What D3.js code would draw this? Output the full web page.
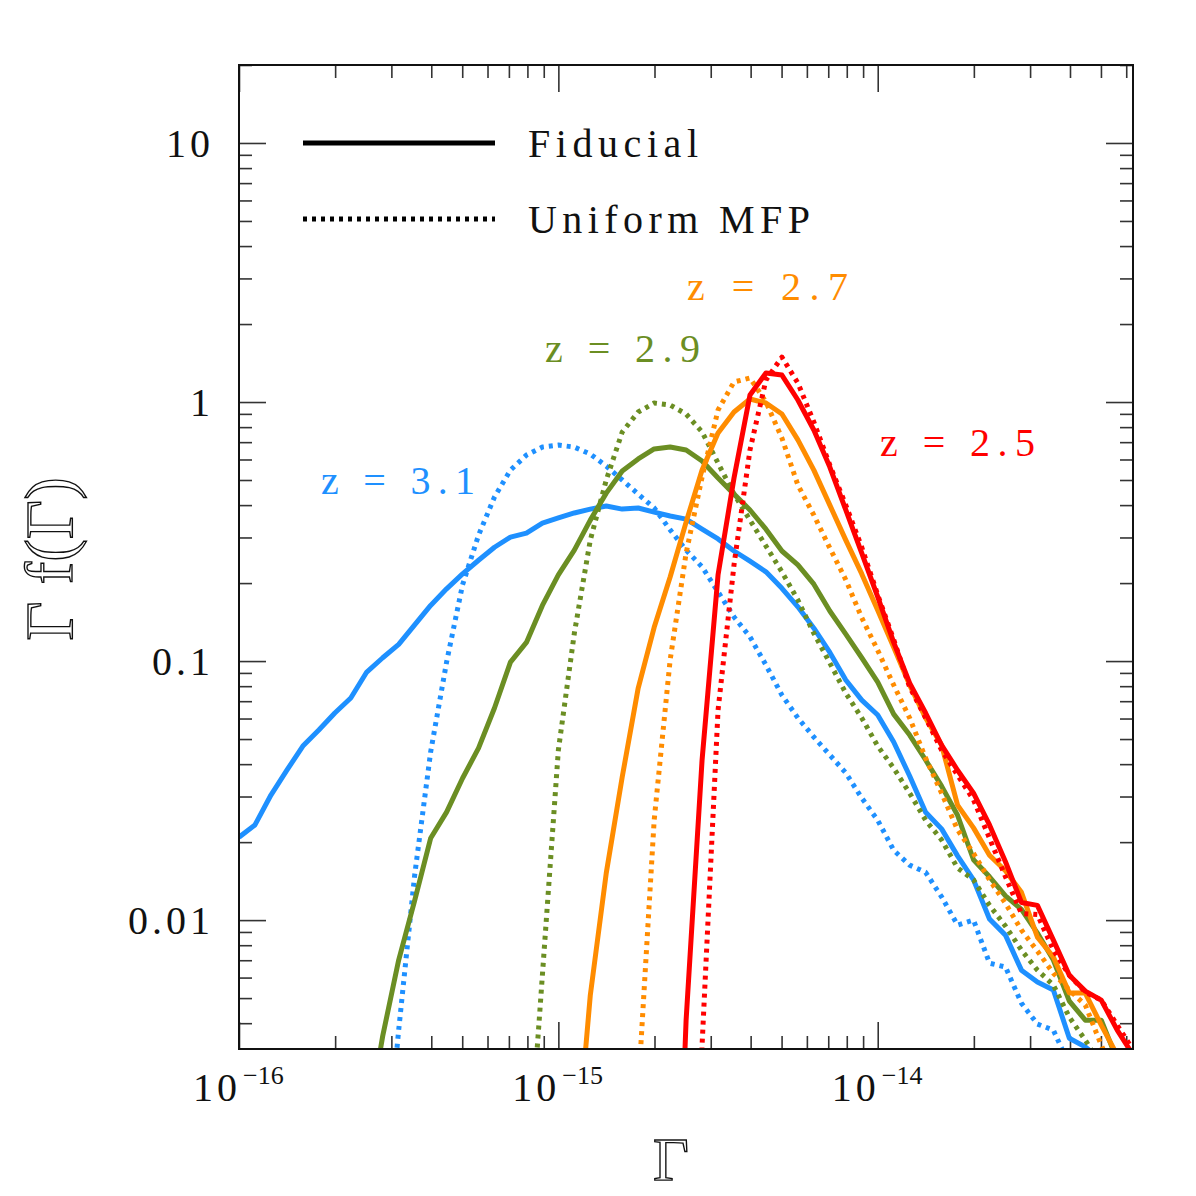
<!DOCTYPE html>
<html>
<head>
<meta charset="utf-8">
<script src="https://cdn.jsdelivr.net/npm/d3@7"></script>
<style>
  body { margin: 0; background: #fff; }
  svg text { font-family: "Liberation Serif", "DejaVu Serif", serif; }
</style>
</head>
<body>
<div id="chart"></div>
<script>
// log10 of Gamma at the bin centres
const logGamma = [
  -16.00, -15.95, -15.90, -15.85, -15.80, -15.75, -15.70, -15.65, -15.60, -15.55,
  -15.50, -15.45, -15.40, -15.35, -15.30, -15.25, -15.20, -15.15, -15.10, -15.05,
  -15.00, -14.95, -14.90, -14.85, -14.80, -14.75, -14.70, -14.65, -14.60, -14.55,
  -14.50, -14.45, -14.40, -14.35, -14.30, -14.25, -14.20, -14.15, -14.10, -14.05,
  -14.00, -13.95, -13.90, -13.85, -13.80, -13.75, -13.70, -13.65, -13.60, -13.55,
  -13.50, -13.45, -13.40, -13.35, -13.30, -13.25, -13.20
];

// Gamma f(Gamma), each series starts at the bin given by its "from" value
const blueSolidFrom = -16.00;
const blueSolid = [
  0.0209, 0.0233, 0.0304, 0.0379, 0.0470, 0.0542, 0.0630, 0.0720, 0.0907, 0.103,
  0.116, 0.138, 0.164, 0.190, 0.217, 0.245, 0.275, 0.301, 0.312, 0.341,
  0.357, 0.373, 0.386, 0.397, 0.386, 0.390, 0.376, 0.363, 0.353, 0.323,
  0.296, 0.266, 0.243, 0.221, 0.191, 0.162, 0.134, 0.108, 0.0845, 0.0707,
  0.0619, 0.0487, 0.0360, 0.0261, 0.0225, 0.0177, 0.0143, 0.0101, 0.00875, 0.00641,
  0.00577, 0.00537, 0.00350, 0.00324, 0.00288
];
const blueDottedFrom = -15.55;
const blueDotted = [
  0.00083,
  0.00376, 0.0149, 0.0445, 0.0991, 0.197, 0.306, 0.430, 0.546, 0.624, 0.670,
  0.682, 0.670, 0.630, 0.566, 0.500, 0.441, 0.390, 0.321, 0.268, 0.231,
  0.185, 0.148, 0.124, 0.0965, 0.0739, 0.0603, 0.0509, 0.0434, 0.0370, 0.0296,
  0.0243, 0.0186, 0.0163, 0.0153, 0.0123, 0.00957, 0.0100, 0.00682, 0.00659, 0.00478,
  0.00397, 0.00376, 0.00275
];
const greenSolidFrom = -15.60;
const greenSolid = [
  0.00155, 0.00357,
  0.00701, 0.0119, 0.0207, 0.0261, 0.0353, 0.0461, 0.0659, 0.0991, 0.118, 0.164,
  0.215, 0.268, 0.350, 0.445, 0.542, 0.603, 0.659, 0.670, 0.653, 0.592,
  0.509, 0.441, 0.383, 0.323, 0.266, 0.235, 0.198, 0.156, 0.127, 0.103,
  0.0830, 0.0624, 0.0518, 0.0415, 0.0329, 0.0254, 0.0171, 0.0147, 0.0124, 0.0110,
  0.00891, 0.00701, 0.00487, 0.00411, 0.00411, 0.00288
];
const greenDottedFrom = -15.10;
const greenDotted = [
  0.00083, 0.00613,
  0.0453, 0.128, 0.293, 0.500, 0.766, 0.915, 0.991, 0.974, 0.899, 0.766,
  0.581, 0.441, 0.350, 0.278, 0.221, 0.172, 0.128, 0.0983, 0.0752, 0.0603,
  0.0470, 0.0386, 0.0309, 0.0243, 0.0204, 0.0159, 0.0143, 0.0114, 0.00948, 0.00766,
  0.00641, 0.00561, 0.00422, 0.00344, 0.00275
];
const orangeSolidFrom = -14.95;
const orangeSolid = [
  0.000991, 0.00513, 0.0152, 0.0357, 0.0787, 0.135, 0.211, 0.344, 0.546,
  0.759, 0.915, 1.027, 0.991, 0.899, 0.714, 0.546, 0.400, 0.293, 0.217,
  0.157, 0.113, 0.0808, 0.0603, 0.0474, 0.0278, 0.0227, 0.0178, 0.0155, 0.0128,
  0.00860, 0.00720, 0.00523, 0.00523, 0.00393, 0.00301
];
const orangeDottedFrom = -14.80;
const orangeDotted = [
  0.000532, 0.00221, 0.0243, 0.101, 0.261, 0.513,
  0.931, 1.195, 1.238, 1.000, 0.726, 0.478, 0.366, 0.273, 0.206, 0.147,
  0.110, 0.0808, 0.0603, 0.0422, 0.0309, 0.0223, 0.0181, 0.0143, 0.0116, 0.00915,
  0.00759, 0.00624, 0.00537, 0.00470, 0.00329, 0.00241
];
const redSolidFrom = -14.65;
const redSolid = [
  0.0001, 0.00411, 0.0415,
  0.215, 0.509, 1.064, 1.294, 1.271, 1.018, 0.780, 0.561, 0.383, 0.261,
  0.177, 0.118, 0.0822, 0.0630, 0.0474, 0.0379, 0.0309, 0.0233, 0.0168, 0.0117,
  0.0114, 0.00837, 0.00613, 0.00532, 0.00491, 0.00376, 0.00301
];
const redDottedFrom = -14.60;
const redDotted = [
  0.0001, 0.00329,
  0.0646, 0.235, 0.653, 1.216, 1.490, 1.184, 0.837, 0.571, 0.400, 0.275,
  0.180, 0.121, 0.0794, 0.0603, 0.0453, 0.0363, 0.0291, 0.0207, 0.0147, 0.0106,
  0.0105, 0.00766, 0.00613, 0.00527, 0.00491, 0.00393, 0.00315
];

const redshifts = ["2.5", "2.7", "2.9", "3.1"];
const colors = ["#ff0000", "#ff8c00", "#6b8e23", "#1e90ff"];
const legendLabels = ["Fiducial", "Uniform MFP"];
const yTickValues = [0.01, 0.1, 1, 10];
const yTickLabels = ["0.01", "0.1", "1", "10"];
const xTickValues = [1e-16, 1e-15, 1e-14];
const xTickExponents = ["\u221216", "\u221215", "\u221214"];

// build the series table from the arrays above
function series(from, values, z, dotted) {
  const start = logGamma.findIndex(g => Math.abs(g - from) < 1e-9);
  return {
    z: z,
    dotted: dotted,
    color: colors[redshifts.indexOf(z)],
    points: values.map((v, i) => [Math.pow(10, logGamma[start + i]), v])
  };
}
const allSeries = [
  series(blueDottedFrom, blueDotted, "3.1", true),
  series(blueSolidFrom, blueSolid, "3.1", false),
  series(greenDottedFrom, greenDotted, "2.9", true),
  series(greenSolidFrom, greenSolid, "2.9", false),
  series(orangeDottedFrom, orangeDotted, "2.7", true),
  series(orangeSolidFrom, orangeSolid, "2.7", false),
  series(redDottedFrom, redDotted, "2.5", true),
  series(redSolidFrom, redSolid, "2.5", false)
];

const W = 1196, H = 1196;
const margin = { top: 65, right: 63, bottom: 147, left: 239 };
const width = W - margin.left - margin.right,
      height = H - margin.top - margin.bottom;
const fontFamily = '"Liberation Serif", "DejaVu Serif", serif';

const svg = d3.select("#chart").append("svg")
    .attr("width", W)
    .attr("height", H)
    .attr("font-family", fontFamily);

const g = svg.append("g")
    .attr("transform", `translate(${margin.left},${margin.top})`);

const x = d3.scaleLog().domain([1e-16, 6.3e-14]).range([0, width]);
const y = d3.scaleLog().domain([0.00318, 20]).range([height, 0]);

// minor / major ticks on all four sides, pointing inward
function minorTicks(domain) {
  const lo = Math.floor(Math.log10(domain[0])), hi = Math.ceil(Math.log10(domain[1]));
  const out = [];
  for (let e = lo; e <= hi; e++) {
    for (let m = 2; m <= 9; m++) {
      const v = m * Math.pow(10, e);
      if (v >= domain[0] && v <= domain[1]) out.push(v);
    }
  }
  return out;
}
const xMinor = minorTicks(x.domain());
const yMinor = minorTicks(y.domain());

const axes = [
  [d3.axisLeft(y), 0, 0, yTickValues, yMinor],
  [d3.axisRight(y), width, 0, yTickValues, yMinor],
  [d3.axisBottom(x), 0, height, xTickValues, xMinor],
  [d3.axisTop(x), 0, 0, xTickValues, xMinor]
];
axes.forEach(([axis, tx, ty, major, minor]) => {
  [[major, 27], [minor, 13]].forEach(([vals, size]) => {
    const ax = g.append("g")
        .attr("transform", `translate(${tx},${ty})`)
        .call(axis.tickValues(vals).tickSize(-size).tickFormat(""));
    ax.select(".domain").remove();
    ax.selectAll(".tick line").attr("stroke", "#333").attr("stroke-width", 1.6);
  });
});

// y tick labels
g.append("g")
    .selectAll("text")
    .data(yTickValues)
    .join("text")
    .attr("x", -25)
    .attr("y", d => y(d) + 14)
    .attr("text-anchor", "end")
    .attr("font-size", 40)
    .attr("letter-spacing", 4)
    .attr("fill", "#111")
    .text((d, i) => yTickLabels[i]);

// x tick labels with superscript exponents
const xLab = g.append("g")
    .selectAll("text")
    .data(xTickValues)
    .join("text")
    .attr("x", d => x(d) - 46)
    .attr("y", height + 52)
    .attr("font-size", 40)
    .attr("fill", "#111");
xLab.append("tspan").attr("letter-spacing", 4).text("10");
xLab.append("tspan")
    .attr("dx", 2)
    .attr("dy", -17)
    .attr("font-size", 26)
    .text((d, i) => xTickExponents[i]);

// curves
svg.append("defs").append("clipPath").attr("id", "plot-clip")
  .append("rect").attr("width", width).attr("height", height);

const line = d3.line()
    .x(d => x(d[0]))
    .y(d => y(d[1]));

g.append("g")
    .attr("clip-path", "url(#plot-clip)")
    .selectAll("path")
    .data(allSeries)
    .join("path")
    .attr("fill", "none")
    .attr("stroke", d => d.color)
    .attr("stroke-width", 5)
    .attr("stroke-dasharray", d => d.dotted ? "4,5" : null)
    .attr("stroke-linejoin", "round")
    .attr("d", d => line(d.points));

// frame
g.append("rect")
    .attr("width", width)
    .attr("height", height)
    .attr("fill", "none")
    .attr("stroke", "#111")
    .attr("stroke-width", 2);

// legend
const legend = g.append("g");
legendLabels.forEach((lab, i) => {
  const ly = 78 + i * 76;
  legend.append("line")
      .attr("x1", 64).attr("x2", 256)
      .attr("y1", ly).attr("y2", ly)
      .attr("stroke", "#000")
      .attr("stroke-width", 5)
      .attr("stroke-dasharray", i === 1 ? "4,5" : null);
  legend.append("text")
      .attr("x", 289)
      .attr("y", ly + 14)
      .attr("font-size", 40)
      .attr("textLength", i === 0 ? 170 : 282)
      .attr("lengthAdjust", "spacing")
      .attr("fill", "#111")
      .text(lab);
});

// redshift labels
const zLabels = [
  { z: "2.5", x: 641, y: 391, w: 155 },
  { z: "2.7", x: 448, y: 235, w: 161 },
  { z: "2.9", x: 306, y: 297, w: 155 },
  { z: "3.1", x: 82, y: 429, w: 154 }
];
g.append("g")
    .selectAll("text")
    .data(zLabels)
    .join("text")
    .attr("x", d => d.x)
    .attr("y", d => d.y)
    .attr("font-size", 40)
    .attr("textLength", d => d.w)
    .attr("lengthAdjust", "spacing")
    .attr("fill", d => colors[redshifts.indexOf(d.z)])
    .text(d => `z = ${d.z}`);

// axis titles
svg.append("text")
    .attr("x", 671)
    .attr("y", 1180)
    .attr("text-anchor", "middle")
    .attr("font-size", 62)
    .attr("fill", "#fff")
    .attr("stroke", "#111")
    .attr("stroke-width", 1.4)
    .text("\u0393");

svg.append("text")
    .attr("transform", "translate(72,559) rotate(-90)")
    .attr("text-anchor", "middle")
    .attr("font-size", 68)
    .attr("fill", "#fff")
    .attr("stroke", "#111")
    .attr("stroke-width", 1.4)
    .text("\u0393 f(\u0393)");
</script>
</body>
</html>
